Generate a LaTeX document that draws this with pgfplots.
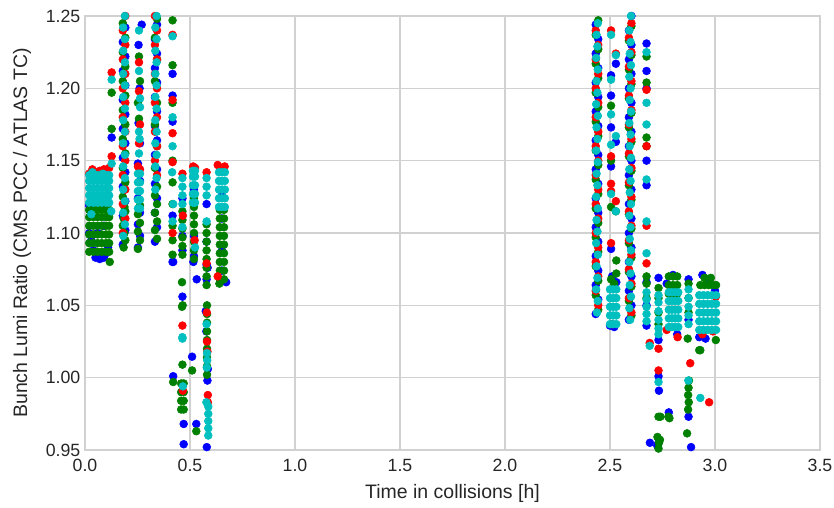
\documentclass[border=0pt]{standalone}
\usepackage{fontspec}
\setmainfont{Liberation Sans}
\usepackage{pgfplots}
\pgfplotsset{compat=1.18}
\definecolor{mb}{rgb}{0,0,1}
\definecolor{mg}{rgb}{0,0.5,0}
\definecolor{mr}{rgb}{1,0,0}
\definecolor{mc}{rgb}{0,0.75,0.75}
\definecolor{gridc}{rgb}{0.82,0.82,0.82}
\begin{document}
\begin{tikzpicture}
\path[use as bounding box] (-63.75pt,-42.75pt) rectangle (561.75pt,337.5pt);
\begin{axis}[
  at={(0,0)}, anchor=south west,
  scale only axis, width=551.25pt, height=325.5pt,
  xmin=0, xmax=3.5, ymin=0.95, ymax=1.25,
  xtick={0,0.5,1,1.5,2,2.5,3,3.5},
  ytick={0.95,1.00,1.05,1.10,1.15,1.20,1.25},
  /pgf/number format/assume math mode=true,
  xticklabel style={/pgf/number format/.cd, fixed, fixed zerofill, precision=1, /tikz/.cd, yshift=-3.5pt},
  yticklabel style={/pgf/number format/.cd, fixed, fixed zerofill, precision=2},
  ticklabel style={font=\fontsize{13.3}{15}\selectfont, text=black!85},
  tick style={draw=none},
  grid=major, major grid style={draw=gridc, line width=0.9pt},
  axis line style={draw=gridc, line width=1pt},
  xlabel={Time in collisions [h]},
  ylabel={Bunch Lumi Ratio (CMS PCC / ATLAS TC)},
  label style={font=\fontsize{14.6}{17}\selectfont, text=black!85},
  xlabel style={at={(axis description cs:0.5,0)}, anchor=base, yshift=-36.2pt},
  ylabel style={at={(axis description cs:-0.0789,0.5)}, anchor=base},
  every axis plot/.append style={only marks, mark=*, mark size=2.95pt},
]
% blue
\addplot[mb, mark options={draw=none, fill=mb}] coordinates {
(0.05,1.083) (0.07,1.082) (0.09,1.083) (0.10,1.086) (0.08,1.085) (0.06,1.086) (0.11,1.090) (0.04,1.088) (0.02,1.100) (0.02,1.119) (0.10,1.118) (0.03,1.095) (0.06,1.100) (0.09,1.105) (0.127,1.166)
(0.180,1.092) (0.192,1.102) (0.180,1.112) (0.192,1.122) (0.180,1.132) (0.192,1.142) (0.180,1.152) (0.192,1.162) (0.180,1.172) (0.192,1.182) (0.180,1.192) (0.192,1.202) (0.180,1.212) (0.192,1.222) (0.180,1.232) (0.192,1.242) (0.180,1.252)
(0.252,1.090) (0.262,1.098) (0.252,1.106) (0.262,1.114) (0.252,1.124) (0.262,1.136) (0.252,1.148) (0.270,1.244) (0.255,1.230) (0.260,1.200) (0.255,1.176) (0.262,1.162)
(0.333,1.094) (0.343,1.104) (0.333,1.114) (0.343,1.124) (0.333,1.134) (0.343,1.144) (0.333,1.154) (0.343,1.164) (0.333,1.174) (0.343,1.184) (0.333,1.194) (0.343,1.204) (0.333,1.214) (0.343,1.224) (0.333,1.234) (0.343,1.244)
(0.417,1.210) (0.417,1.195) (0.417,1.177) (0.417,1.080) (0.417,1.112)
(0.464,1.088) (0.464,1.098) (0.464,1.124) (0.464,1.056)
(0.519,1.084) (0.519,1.098) (0.519,1.130) (0.532,1.068) (0.510,1.0145) (0.516,1.080)
(0.579,1.068) (0.579,1.078) (0.579,1.094) (0.579,1.120) (0.584,1.076) (0.575,1.046) (0.578,1.032) (0.585,1.006) (0.583,0.998) (0.580,0.952)
(0.652,1.074) (0.652,1.088) (0.652,1.110) (0.652,1.126) (0.672,1.066)
(0.420,1.001) (0.470,0.968) (0.470,0.954) (0.530,0.968) (0.420,1.080)
(2.432,1.044) (2.444,1.054) (2.432,1.064) (2.444,1.074) (2.432,1.084) (2.444,1.094) (2.432,1.104) (2.444,1.114) (2.432,1.124) (2.444,1.134) (2.432,1.144) (2.444,1.154) (2.432,1.164) (2.444,1.174) (2.432,1.184) (2.444,1.194) (2.432,1.204) (2.444,1.214) (2.432,1.224) (2.444,1.234) (2.432,1.244)
(2.505,1.209) (2.505,1.195) (2.505,1.173) (2.528,1.217) (2.505,1.146) (2.528,1.163) (2.505,1.089) (2.500,1.036) (2.520,1.035) (2.510,1.070) (2.530,1.066)
(2.590,1.040) (2.602,1.050) (2.590,1.060) (2.602,1.070) (2.590,1.080) (2.602,1.090) (2.590,1.100) (2.602,1.110) (2.590,1.120) (2.602,1.130) (2.590,1.140) (2.602,1.150) (2.590,1.160) (2.602,1.170) (2.590,1.180) (2.602,1.190) (2.590,1.200) (2.602,1.210) (2.590,1.220) (2.602,1.230) (2.590,1.240) (2.602,1.250)
(2.674,1.231) (2.674,1.212) (2.674,1.200) (2.674,1.150) (2.674,1.133) (2.674,1.036) (2.674,1.050) (2.674,1.066)
(2.731,1.069) (2.731,1.001) (2.731,1.026) (2.731,0.955) (2.733,0.991)
(2.800,1.071) (2.780,0.976) (2.770,1.065) (2.820,1.030)
(2.874,1.068) (2.874,0.973) (2.886,0.952) (2.874,1.040)
(2.940,1.071) (2.975,1.065) (2.925,1.028) (2.955,1.027) (3.000,1.060) (2.690,0.955) (2.725,0.953)
};
% green
\addplot[mg, mark options={draw=none, fill=mg}] coordinates {
(0.02,1.087) (0.04,1.087) (0.06,1.087) (0.08,1.087) (0.10,1.087) (0.115,1.087)
(0.02,1.093) (0.04,1.093) (0.06,1.093) (0.08,1.093) (0.10,1.093) (0.115,1.093)
(0.02,1.099) (0.04,1.099) (0.06,1.099) (0.08,1.099) (0.10,1.099) (0.115,1.099)
(0.02,1.105) (0.04,1.105) (0.06,1.105) (0.08,1.105) (0.10,1.105) (0.115,1.105)
(0.02,1.111) (0.04,1.111) (0.06,1.111) (0.08,1.111) (0.10,1.111) (0.115,1.111)
(0.02,1.116) (0.04,1.116) (0.06,1.116) (0.08,1.116) (0.10,1.116) (0.115,1.116)
(0.118,1.080) (0.127,1.197) (0.127,1.172)
(0.192,1.095) (0.180,1.105) (0.192,1.115) (0.180,1.125) (0.192,1.135) (0.180,1.145) (0.192,1.155) (0.180,1.165) (0.192,1.175) (0.180,1.185) (0.192,1.195) (0.180,1.205) (0.192,1.215) (0.180,1.225) (0.192,1.235) (0.180,1.245)
(0.184,1.090) (0.188,1.100) (0.184,1.110) (0.188,1.118)
(0.252,1.089) (0.262,1.095) (0.252,1.101) (0.262,1.107) (0.252,1.113) (0.262,1.119) (0.257,1.179) (0.257,1.222) (0.262,1.205) (0.252,1.190)
(0.343,1.096) (0.333,1.102) (0.343,1.108) (0.333,1.114) (0.343,1.120) (0.333,1.126) (0.343,1.132)
(0.333,1.145) (0.343,1.160) (0.333,1.175) (0.343,1.190) (0.333,1.205) (0.343,1.220) (0.333,1.235) (0.343,1.248)
(0.417,1.247) (0.417,1.216) (0.417,1.190) (0.417,1.150) (0.417,1.135) (0.417,1.120) (0.417,1.105) (0.417,1.095) (0.417,1.085)
(0.464,1.085) (0.464,1.091) (0.464,1.097) (0.464,1.103) (0.464,1.109) (0.464,1.115) (0.462,1.066) (0.465,1.050)
(0.519,1.082) (0.519,1.088) (0.519,1.094) (0.519,1.100) (0.519,1.106) (0.519,1.112) (0.519,1.118) (0.519,1.124)
(0.579,1.064) (0.579,1.070) (0.579,1.076) (0.579,1.082) (0.579,1.088) (0.579,1.094) (0.579,1.100) (0.579,1.106)
(0.581,1.050) (0.581,1.044) (0.581,1.038) (0.581,1.032) (0.581,1.026) (0.581,1.020) (0.581,1.014) (0.581,1.008) (0.581,1.002)
(0.642,1.068) (0.642,1.074) (0.642,1.080) (0.642,1.086) (0.642,1.092) (0.642,1.098) (0.642,1.104) (0.642,1.110) (0.642,1.116)
(0.662,1.068) (0.662,1.074) (0.662,1.080) (0.662,1.086) (0.662,1.092) (0.662,1.098) (0.662,1.104) (0.662,1.110) (0.662,1.116)
(0.458,0.978) (0.458,0.984) (0.458,0.990) (0.458,0.996) (0.470,0.978) (0.470,0.984) (0.470,0.990) (0.470,0.996)
(0.420,0.997) (0.530,0.963) (0.510,1.005) (0.462,1.049) (0.640,1.065) (0.464,1.009)
(2.444,1.047) (2.432,1.057) (2.444,1.067) (2.432,1.077) (2.444,1.087) (2.432,1.097) (2.444,1.107) (2.432,1.117) (2.444,1.127) (2.432,1.137) (2.444,1.147) (2.432,1.157) (2.444,1.167) (2.432,1.177) (2.444,1.187) (2.432,1.197) (2.444,1.207) (2.432,1.217) (2.444,1.227) (2.432,1.237) (2.444,1.247)
(2.505,1.188) (2.505,1.150) (2.505,1.118) (2.528,1.115) (2.530,1.081) (2.520,1.065) (2.505,1.068) (2.530,1.072)
(2.602,1.043) (2.590,1.053) (2.602,1.063) (2.590,1.073) (2.602,1.083) (2.590,1.093) (2.602,1.103) (2.590,1.113) (2.602,1.123) (2.590,1.133) (2.602,1.143) (2.590,1.153) (2.602,1.163) (2.590,1.173) (2.602,1.183) (2.590,1.193) (2.602,1.203) (2.590,1.213) (2.602,1.223) (2.590,1.233) (2.602,1.243) (2.590,1.253)
(2.674,1.222) (2.674,1.204) (2.674,1.166) (2.674,1.160) (2.674,1.065) (2.674,1.070) (2.674,1.055)
(2.731,1.062) (2.731,1.055) (2.731,1.045) (2.731,1.037) (2.731,0.973) (2.726,0.959) (2.733,0.955) (2.731,0.951) (2.738,0.957)
(2.780,1.058) (2.800,1.058) (2.820,1.058) (2.780,1.064) (2.800,1.064) (2.820,1.064) (2.780,1.070) (2.800,1.070) (2.820,1.070)
(2.778,0.973) (2.740,0.973) (2.783,0.972)
(2.874,1.045) (2.874,1.055) (2.874,1.065) (2.872,0.978) (2.875,0.983) (2.872,0.988) (2.874,0.993) (2.876,0.998) (2.870,1.027) (2.930,1.019) (2.867,0.9615)
(2.930,1.064) (2.950,1.064) (2.970,1.064) (2.990,1.064) (3.005,1.064) (2.950,1.069) (2.980,1.069) (3.004,1.026) (2.925,1.019)
};
% red
\addplot[mr, mark options={draw=none, fill=mr}] coordinates {
(0.02,1.141) (0.035,1.144) (0.05,1.142) (0.07,1.143) (0.09,1.144) (0.105,1.144) (0.115,1.145) (0.127,1.211) (0.127,1.153)
(0.180,1.100) (0.192,1.110) (0.180,1.120) (0.192,1.130) (0.180,1.140) (0.192,1.150) (0.180,1.160) (0.192,1.170) (0.180,1.180) (0.192,1.190) (0.180,1.200) (0.192,1.210) (0.180,1.220) (0.192,1.230) (0.180,1.240) (0.192,1.250)
(0.252,1.146) (0.262,1.144) (0.257,1.218) (0.257,1.162) (0.257,1.198) (0.262,1.175)
(0.343,1.140) (0.333,1.150) (0.343,1.160) (0.333,1.170) (0.343,1.180) (0.333,1.190) (0.343,1.200) (0.333,1.210) (0.343,1.220) (0.333,1.230) (0.343,1.240) (0.333,1.250)
(0.417,1.237) (0.417,1.192) (0.417,1.169) (0.417,1.149) (0.417,1.100)
(0.464,1.141) (0.466,1.112)
(0.515,1.146) (0.524,1.145) (0.522,1.095)
(0.579,1.142) (0.579,1.079) (0.581,1.025) (0.583,1.018) (0.580,1.045) (0.585,0.988) (0.585,0.983)
(0.632,1.147) (0.645,1.145) (0.665,1.146) (0.632,1.070)
(0.464,1.036) (0.466,0.991)
(2.444,1.050) (2.432,1.060) (2.444,1.070) (2.432,1.080) (2.444,1.090) (2.432,1.100) (2.444,1.110) (2.432,1.120) (2.444,1.130) (2.432,1.140) (2.444,1.150) (2.432,1.160) (2.444,1.170) (2.432,1.180) (2.444,1.190) (2.432,1.200) (2.444,1.210) (2.432,1.220) (2.444,1.230) (2.432,1.240)
(2.505,1.240) (2.528,1.224) (2.505,1.129) (2.528,1.122) (2.505,1.134) (2.505,1.153) (2.505,1.093) (2.510,1.037)
(2.602,1.045) (2.590,1.055) (2.602,1.065) (2.590,1.075) (2.602,1.085) (2.590,1.095) (2.602,1.105) (2.590,1.115) (2.602,1.125) (2.590,1.135) (2.602,1.145) (2.590,1.155) (2.602,1.165) (2.590,1.175) (2.602,1.185) (2.590,1.195) (2.602,1.205) (2.590,1.215) (2.602,1.225) (2.590,1.235) (2.602,1.245)
(2.674,1.199) (2.674,1.160) (2.674,1.105) (2.674,1.079) (2.689,1.024)
(2.731,1.020) (2.731,1.005)
(2.822,1.028) (2.770,1.033)
(2.882,1.010) (2.972,0.983)
(3.004,1.056) (2.940,1.030) (2.990,1.032)
};
% cyan
\addplot[mc, mark options={draw=none, fill=mc}] coordinates {
(0.02,1.121) (0.04,1.121) (0.06,1.121) (0.08,1.121) (0.10,1.121) (0.115,1.121)
(0.02,1.126) (0.04,1.126) (0.06,1.126) (0.08,1.126) (0.10,1.126) (0.115,1.126)
(0.02,1.131) (0.04,1.131) (0.06,1.131) (0.08,1.131) (0.10,1.131) (0.115,1.131)
(0.02,1.136) (0.04,1.136) (0.06,1.136) (0.08,1.136) (0.10,1.136) (0.115,1.136)
(0.02,1.140) (0.04,1.140) (0.06,1.140) (0.08,1.140) (0.10,1.140) (0.115,1.140)
(0.035,1.142) (0.085,1.141) (0.125,1.115) (0.03,1.113) (0.127,1.206) (0.127,1.148)
(0.182,1.098) (0.190,1.106) (0.182,1.114) (0.190,1.122) (0.182,1.130) (0.190,1.138) (0.182,1.146) (0.190,1.154) (0.182,1.162) (0.190,1.170) (0.182,1.178) (0.190,1.186) (0.182,1.194) (0.190,1.202) (0.182,1.210) (0.190,1.218) (0.182,1.226) (0.190,1.234) (0.182,1.242) (0.190,1.250)
(0.252,1.117) (0.262,1.117) (0.252,1.123) (0.262,1.123) (0.252,1.129) (0.262,1.129) (0.252,1.135) (0.262,1.135) (0.252,1.141) (0.262,1.141)
(0.257,1.240) (0.257,1.212) (0.262,1.193) (0.262,1.187) (0.257,1.170) (0.260,1.165) (0.257,1.155)
(0.335,1.130) (0.341,1.138) (0.335,1.146) (0.341,1.154) (0.335,1.162) (0.341,1.170) (0.335,1.178) (0.341,1.186) (0.335,1.194) (0.341,1.202) (0.335,1.210) (0.341,1.218) (0.335,1.226) (0.341,1.234) (0.335,1.242) (0.341,1.250)
(0.417,1.236) (0.417,1.180) (0.417,1.160) (0.417,1.108) (0.415,1.142) (0.420,1.120)
(0.464,1.120) (0.464,1.126) (0.464,1.132) (0.464,1.138) (0.464,1.104) (0.464,1.028)
(0.514,1.121) (0.524,1.121) (0.514,1.127) (0.524,1.127) (0.514,1.133) (0.524,1.133) (0.514,1.139) (0.524,1.139) (0.514,1.143) (0.524,1.143) (0.524,1.090)
(0.579,1.126) (0.579,1.132) (0.579,1.138) (0.579,1.108)
(0.581,1.017) (0.582,1.012) (0.580,1.007) (0.579,1.037) (0.578,0.983)
(0.587,0.980) (0.587,0.975) (0.587,0.970) (0.587,0.965) (0.587,0.960)
(0.638,1.118) (0.652,1.118) (0.666,1.118) (0.638,1.124) (0.652,1.124) (0.666,1.124) (0.638,1.130) (0.652,1.130) (0.666,1.130) (0.638,1.136) (0.652,1.136) (0.666,1.136) (0.638,1.142) (0.652,1.142) (0.666,1.142)
(0.466,0.994) (0.464,1.027)
(2.438,1.045) (2.442,1.053) (2.434,1.061) (2.440,1.069) (2.436,1.077) (2.442,1.085) (2.434,1.093) (2.440,1.101) (2.436,1.109) (2.442,1.117) (2.434,1.125) (2.440,1.133) (2.436,1.141) (2.442,1.149) (2.434,1.157) (2.440,1.165) (2.436,1.173) (2.442,1.181) (2.434,1.189) (2.440,1.197) (2.436,1.205) (2.442,1.213) (2.434,1.221) (2.440,1.229) (2.436,1.237) (2.442,1.245)
(2.505,1.237) (2.528,1.223) (2.505,1.206) (2.505,1.182) (2.505,1.161) (2.528,1.167) (2.505,1.127) (2.528,1.115)
(2.500,1.037) (2.515,1.037) (2.530,1.037) (2.500,1.043) (2.515,1.043) (2.530,1.043) (2.500,1.049) (2.515,1.049) (2.530,1.049) (2.500,1.055) (2.515,1.055) (2.530,1.055) (2.500,1.061) (2.515,1.061) (2.530,1.061)
(2.596,1.040) (2.592,1.048) (2.600,1.056) (2.594,1.064) (2.598,1.072) (2.592,1.080) (2.600,1.088) (2.594,1.096) (2.598,1.104) (2.592,1.112) (2.600,1.120) (2.594,1.128) (2.598,1.136) (2.592,1.144) (2.600,1.152) (2.594,1.160) (2.598,1.168) (2.592,1.176) (2.600,1.184) (2.594,1.192) (2.598,1.200) (2.592,1.208) (2.600,1.216) (2.594,1.224) (2.598,1.232) (2.592,1.240) (2.600,1.250)
(2.674,1.225) (2.674,1.190) (2.674,1.175) (2.674,1.137) (2.674,1.108) (2.674,1.086)
(2.674,1.039) (2.674,1.044) (2.674,1.049) (2.674,1.054) (2.674,1.059)
(2.731,1.034) (2.731,1.040) (2.731,1.046) (2.731,1.052) (2.731,1.057) (2.731,0.997) (2.731,1.030) (2.689,1.022)
(2.780,1.035) (2.795,1.035) (2.810,1.035) (2.825,1.035) (2.780,1.041) (2.795,1.041) (2.810,1.041) (2.825,1.041) (2.780,1.047) (2.795,1.047) (2.810,1.047) (2.825,1.047) (2.780,1.053) (2.795,1.053) (2.810,1.053) (2.825,1.053) (2.780,1.059) (2.795,1.059) (2.810,1.059) (2.825,1.059)
(2.874,1.037) (2.874,1.043) (2.874,1.049) (2.874,1.055) (2.874,1.061) (2.873,0.998) (2.930,0.986)
(2.925,1.033) (2.945,1.033) (2.965,1.033) (2.985,1.033) (3.005,1.033) (2.925,1.039) (2.945,1.039) (2.965,1.039) (2.985,1.039) (3.005,1.039) (2.925,1.045) (2.945,1.045) (2.965,1.045) (2.985,1.045) (3.005,1.045) (2.925,1.051) (2.945,1.051) (2.965,1.051) (2.985,1.051) (3.005,1.051) (2.925,1.057) (2.945,1.057) (2.965,1.057) (2.985,1.057) (3.005,1.057)
};
\end{axis}
\end{tikzpicture}
\end{document}
